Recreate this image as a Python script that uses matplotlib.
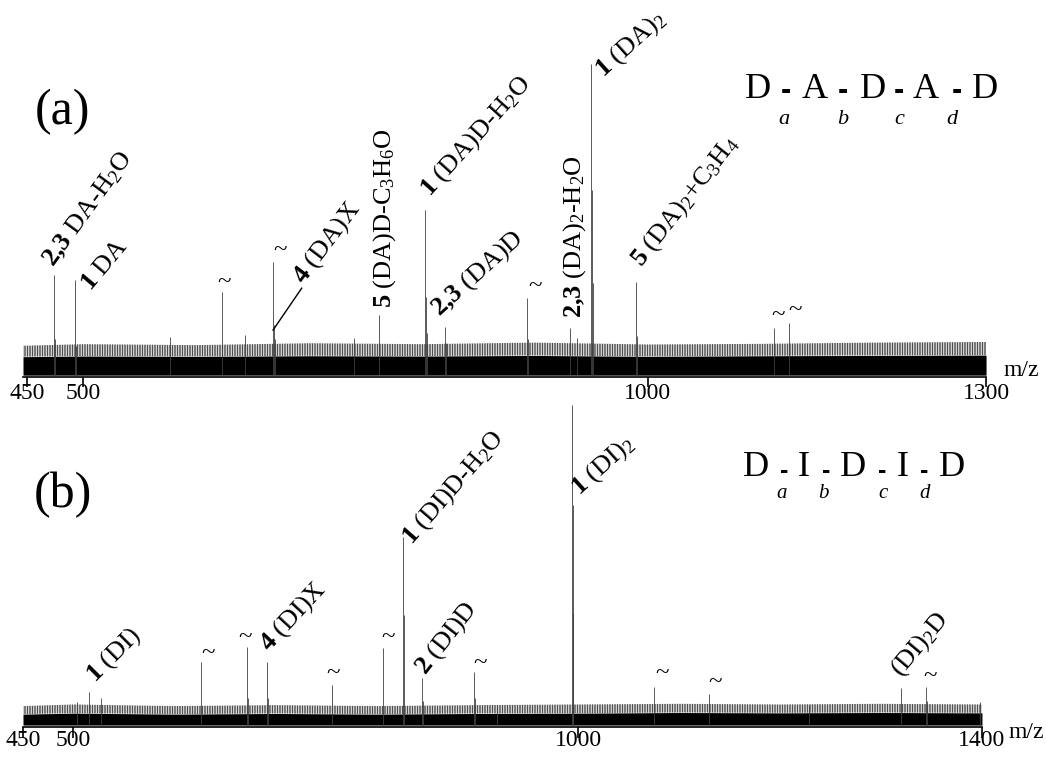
import matplotlib
matplotlib.use('Agg')
import matplotlib.pyplot as plt

plt.rcParams['font.family'] = 'Liberation Serif'
plt.rcParams['mathtext.fontset'] = 'custom'
plt.rcParams['mathtext.rm'] = 'Liberation Serif'
plt.rcParams['mathtext.it'] = 'Liberation Serif:italic'
plt.rcParams['mathtext.bf'] = 'Liberation Serif:bold'
plt.rcParams['hatch.linewidth'] = 0.5

# (a) D-A-D-A-D spectrum: peak positions (m/z) and relative intensity
mz_a = [474.0, 474.6, 492.6, 493.2, 576.8, 622.9, 643.3, 668.1, 668.7, 669.4,
        739.9, 762.0, 802.8, 803.4, 804.1, 820.5, 821.2, 893.2, 893.9,
        931.3, 937.5, 949.9, 950.6, 951.4, 989.8, 990.5, 1112.1, 1125.4]
int_a = [32.6, 12.0, 31.0, 10.0, 12.8, 27.2, 13.4, 36.7, 16.6, 12.0,
         12.5, 19.8, 53.4, 25.6, 14.0, 16.0, 11.0, 25.2, 12.0,
         15.7, 12.5, 100.0, 59.7, 30.0, 30.4, 13.0, 15.7, 17.3]

# (b) D-I-D-I-D spectrum
mz_b = [503.5, 515.4, 527.3, 626.3, 671.9, 672.6, 691.7, 692.4, 756.1, 806.6,
        826.4, 827.1, 845.2, 845.9, 896.8, 897.5, 919.5, 993.8, 994.5, 995.2,
        1075.1, 1129.5, 1228.6, 1319.7, 1344.5, 1345.2, 1398.0]
int_b = [7.8, 10.9, 9.0, 20.2, 24.8, 9.0, 20.2, 9.0, 13.0, 24.5,
         59.0, 34.8, 15.2, 8.0, 17.1, 9.0, 6.2, 100.0, 68.9, 35.4,
         12.4, 10.2, 6.8, 12.1, 12.4, 8.0, 7.8]

# baseline noise envelope: floor, dense body, spike tips
noise_mz_a = [446.5, 500, 600, 700, 800, 900, 1000, 1100, 1200, 1300]
noise_floor_a = [0.6, 0.6, 0.6, 0.6, 0.6, 0.6, 0.6, 0.6, 0.6, 0.6]
noise_body_a = [6.5, 6.7, 6.6, 6.8, 6.7, 6.9, 6.6, 6.8, 6.9, 7.0]
noise_tips_a = [10.0, 10.5, 10.2, 10.8, 10.5, 11.0, 10.4, 10.6, 11.0, 11.2]

noise_mz_b = [450, 500, 600, 700, 800, 900, 1000, 1100, 1200, 1300, 1400]
noise_floor_b = [0.6, 0.6, 0.6, 0.6, 0.6, 0.6, 0.6, 0.6, 0.6, 0.6, 0.6]
noise_body_b = [4.0, 4.3, 4.0, 4.2, 4.0, 4.2, 4.3, 4.5, 4.4, 4.5, 4.4]
noise_tips_b = [6.5, 7.0, 6.5, 6.8, 6.5, 6.8, 7.0, 7.2, 7.0, 7.2, 7.0]

ticks_a = [450, 500, 1000, 1300]
ticks_b = [450, 500, 1000, 1400]

# peak annotations: (text, m/z, intensity, rotation)
labels_a = [
    (r'$\mathbf{2{,}3}\ \mathrm{DA\text{-}H_2O}$', 473.5, 34.8, 54),
    (r'$\mathbf{1}\ \mathrm{DA}$', 506.5, 27.2, 50),
    (r'$\mathbf{4}\ \mathrm{(DA)X}$', 694.5, 29.4, 53),
    (r'$\mathbf{5}\ \mathrm{(DA)D\text{-}C_3H_6O}$', 771.9, 22.0, 90),
    (r'$\mathbf{1}\ \mathrm{(DA)D\text{-}H_2O}$', 807.0, 57.5, 48),
    (r'$\mathbf{2{,}3}\ \mathrm{(DA)D}$', 815.5, 19.2, 42),
    (r'$\mathbf{2{,}3}\ \mathrm{(DA)_2\text{-}H_2O}$', 940.3, 18.8, 90),
    (r'$\mathbf{1}\ \mathrm{(DA)_2}$', 960.5, 95.8, 42),
    (r'$\mathbf{5}\ \mathrm{(DA)_2{+}C_3H_4}$', 994.0, 35.1, 52),
]
labels_b = [
    (r'$\mathbf{1}\ \mathrm{(DI)}$', 521.0, 13.7, 45),
    (r'$\mathbf{4}\ \mathrm{(DI)X}$', 693.0, 23.3, 47),
    (r'$\mathbf{1}\ \mathrm{(DI)D\text{-}H_2O}$', 835.0, 56.5, 49),
    (r'$\mathbf{2}\ \mathrm{(DI)D}$', 848.0, 16.1, 52),
    (r'$\mathbf{1}\ \mathrm{(DI)_2}$', 1001.0, 72.0, 42),
    (r'$\mathrm{(DI)_2D}$', 1319.0, 15.5, 50),
]

# "~" marks over unassigned peaks
tilde_a = [(624.7, 30.4), (674.3, 40.6), (900.4, 29.1), (1115.8, 19.8), (1130.9, 21.4)]
tilde_b = [(633.3, 23.0), (669.9, 28.0), (757.1, 16.8), (811.6, 28.0), (902.7, 19.9),
           (1083.0, 16.8), (1135.5, 14.0), (1348.5, 15.8)]


def spectrum(ax, mz, inten, nmz, nfloor, nbody, ntips, ticks, xlim):
    ax.fill_between(nmz, nfloor, nbody, color='black', lw=0)
    ax.fill_between(nmz, nbody, ntips, facecolor='none', edgecolor='black',
                    hatch='||||||||||', lw=0)
    ax.vlines(mz, 0.6, inten, color='0.25', lw=0.6)
    ax.set_xlim(*xlim)
    ax.set_ylim(0, 100)
    for s in ['left', 'right', 'top']:
        ax.spines[s].set_visible(False)
    ax.spines['bottom'].set_linewidth(1.2)
    ax.set_yticks([])
    ax.set_xticks(ticks)
    ax.set_xticklabels([str(t) for t in ticks])
    ax.tick_params(axis='x', direction='out', length=7, width=1.2, labelsize=17)


def annotate(ax, labels, tildes):
    for txt, x, y, rot in labels:
        ax.text(x, y, txt, fontsize=19, rotation=rot, rotation_mode='anchor',
                ha='left', va='baseline')
    for x, y in tildes:
        ax.text(x, y, '~', fontsize=18, ha='center', va='center')


fig = plt.figure(figsize=(10.46, 7.6), dpi=100)
ax1 = fig.add_axes([0.02199, 0.5039, 0.9207, 0.4118])
ax2 = fig.add_axes([0.02199, 0.0434, 0.9168, 0.4237])

spectrum(ax1, mz_a, int_a, noise_mz_a, noise_floor_a, noise_body_a, noise_tips_a,
         ticks_a, (446.5, 1300))
spectrum(ax2, mz_b, int_b, noise_mz_b, noise_floor_b, noise_body_b, noise_tips_b,
         ticks_b, (450, 1400))
ax1.tick_params(axis='x', pad=-3)
ax2.tick_params(axis='x', length=8, pad=-6)

annotate(ax1, labels_a, tilde_a)
annotate(ax2, labels_b, tilde_b)

# leader line from the (DA)X peak to its label
ax1.plot([668.1, 693.5], [15.0, 28.4], color='black', lw=1.0)

ax1.text(1331, 2, 'm/z', fontsize=17, ha='center', va='center', clip_on=False)
ax2.text(1444, -1.8, 'm/z', fontsize=17, ha='center', va='center', clip_on=False)

fig.text(0.060, 0.853, '(a)', fontsize=36, ha='center', va='center')
fig.text(0.060, 0.349, '(b)', fontsize=36, ha='center', va='center')

# sequence schemes with cleavage sites a-d
seq_a = [('D', 758), ('-', 786), ('A', 815), ('-', 843), ('D', 873),
         ('-', 899), ('A', 926), ('-', 957), ('D', 985)]
sub_a = [('a', 784), ('b', 843), ('c', 899), ('d', 952)]
seq_b = [('D', 756), ('-', 784), ('I', 804), ('-', 826), ('D', 853),
         ('-', 882), ('I', 903), ('-', 924), ('D', 952)]
sub_b = [('a', 782), ('b', 823), ('c', 883), ('d', 925)]

W, H = 1046.0, 760.0
for ch, px in seq_a:
    if ch == '-':
        fig.text(px / W, 1 - 91 / H, ch, fontsize=22, family='Liberation Sans',
                 fontweight='bold', ha='center', va='center')
    else:
        fig.text(px / W, 1 - 90 / H, ch, fontsize=26, ha='center', va='center')
for ch, px in sub_a:
    fig.text(px / W, 1 - 119 / H, ch, fontsize=16, style='italic', ha='center', va='center')
for ch, px in seq_b:
    if ch == '-':
        fig.text(px / W, 1 - 478 / H, ch, fontsize=18, family='Liberation Sans',
                 fontweight='bold', ha='center', va='baseline')
    else:
        fig.text(px / W, 1 - 468 / H, ch, fontsize=26, ha='center', va='center')
for ch, px in sub_b:
    fig.text(px / W, 1 - 493 / H, ch, fontsize=15, style='italic', ha='center', va='center')

fig.savefig('out.png', dpi=100)
